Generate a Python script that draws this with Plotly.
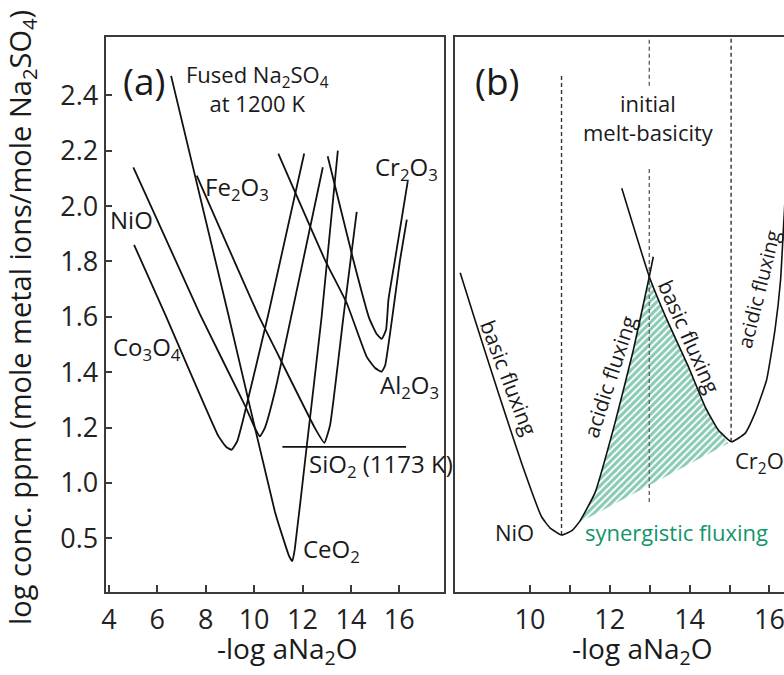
import plotly.graph_objects as go

FONT = "Open Sans"

# ---------------- Panel (a) data (x = -log aNa2O, y = plotted log conc.) -----
nio_x = [5.01, 7.76, 9.62, 10.05, 10.24, 10.45, 10.86, 12.84]
nio_y = [2.14, 1.61, 1.28, 1.195, 1.168, 1.20, 1.33, 2.14]

co3o4_x = [5.04, 6.32, 8.52, 8.85, 9.07, 9.30, 9.55, 10.59, 12.07]
co3o4_y = [1.86, 1.61, 1.17, 1.13, 1.12, 1.15, 1.23, 1.61, 2.19]

ceo2_x = [6.57, 8.93, 10.86, 11.20, 11.45, 11.58, 11.68, 12.17, 12.79, 13.46]
ceo2_y = [2.47, 1.61, 0.896, 0.80, 0.735, 0.718, 0.76, 1.129, 1.60, 2.20]

fe2o3_x = [7.63, 10.17, 10.86, 12.52, 12.90, 13.14, 13.69, 14.24]
fe2o3_y = [2.11, 1.607, 1.486, 1.197, 1.145, 1.209, 1.599, 1.979]

cr2o3_x = [13.04, 14.10, 14.75, 15.05, 15.27, 15.45, 15.55, 15.82, 16.35]
cr2o3_y = [2.18, 1.805, 1.596, 1.54, 1.52, 1.552, 1.661, 1.805, 2.09]

al2o3_x = [11.00, 12.93, 13.83, 14.65, 15.00, 15.27, 15.41, 16.03, 16.31]
al2o3_y = [2.189, 1.805, 1.649, 1.456, 1.415, 1.402, 1.423, 1.805, 1.951]

sio2_x = [11.17, 16.28]
sio2_y = [1.130, 1.130]

a_tick_vals = [0.8, 1.0, 1.2, 1.4, 1.6, 1.8, 2.0, 2.2, 2.4]
a_tick_text = ["0.5", "1.0", "1.2", "1.4", "1.6", "1.8", "2.0", "2.2", "2.4"]
a_xticks = [4, 6, 8, 10, 12, 14, 16]

# ---------------- Panel (b) data -------------------------------------------
b_nio_x = [8.25, 8.62, 9.21, 9.79, 10.29, 10.50, 10.79, 11.05, 11.25, 11.63,
           12.13, 12.59, 12.99, 13.09]
b_nio_y = [1.759, 1.589, 1.324, 1.071, 0.878, 0.838, 0.812, 0.828, 0.862,
           0.965, 1.217, 1.480, 1.745, 1.817]

b_cr_x = [12.30, 12.99, 13.47, 13.97, 14.39, 14.72, 15.05, 15.39, 15.64,
          15.93, 16.14, 16.28, 16.35, 16.42]
b_cr_y = [2.064, 1.745, 1.577, 1.420, 1.275, 1.191, 1.149, 1.179, 1.252,
          1.372, 1.553, 1.733, 1.914, 2.094]

# synergistic region corners (start on NiO branch, end near Cr2O3 minimum)
syn_start = (11.21, 0.855)
syn_end = (14.97, 1.143)

# vertical reference lines in (b): x, y_bottom, y_top
ref_nio = (10.79, 0.812, 2.473)
ref_melt_segments = [(12.99, 2.434, 2.611), (12.99, 0.931, 2.134)]
ref_cr = (15.04, 1.149, 2.611)

b_xticks = [10, 11, 12, 13, 14, 15, 16]
b_xtext = ["10", "", "12", "", "14", "", "16"]

GREEN = "#12956a"
AXC = "#3a3a3a"

fig = go.Figure()

line_a = dict(color="#111111", width=1.8, shape="spline", smoothing=0.4)
for xs, ys in [(nio_x, nio_y), (co3o4_x, co3o4_y), (ceo2_x, ceo2_y),
               (fe2o3_x, fe2o3_y), (cr2o3_x, cr2o3_y), (al2o3_x, al2o3_y)]:
    fig.add_trace(go.Scatter(x=xs, y=ys, mode="lines", line=line_a,
                             xaxis="x", yaxis="y", showlegend=False, hoverinfo="skip"))
fig.add_trace(go.Scatter(x=sio2_x, y=sio2_y, mode="lines",
                         line=dict(color="#111111", width=1.8),
                         xaxis="x", yaxis="y", showlegend=False, hoverinfo="skip"))

# ---- panel (b)
poly_x, poly_y = [syn_start[0]], [syn_start[1]]
for xv, yv in zip(b_nio_x, b_nio_y):
    if syn_start[0] < xv <= 12.99:
        poly_x.append(xv); poly_y.append(yv)
for xv, yv in zip(b_cr_x, b_cr_y):
    if 12.99 < xv < syn_end[0]:
        poly_x.append(xv); poly_y.append(yv)
poly_x.append(syn_end[0]); poly_y.append(syn_end[1])
poly_x.append(syn_start[0]); poly_y.append(syn_start[1])
fig.add_trace(go.Scatter(x=poly_x, y=poly_y, mode="lines", fill="toself",
                         line=dict(width=0, color=GREEN),
                         fillcolor="rgba(0,0,0,0)",
                         fillpattern=dict(shape="/", fgcolor=GREEN, bgcolor="white",
                                          size=5, solidity=0.6),
                         xaxis="x2", yaxis="y2", showlegend=False, hoverinfo="skip"))

dash_style = dict(color="#333333", width=1.4, dash="4px,3px")
for (xv, y0, y1) in [ref_nio, ref_cr]:
    fig.add_trace(go.Scatter(x=[xv, xv], y=[y0, y1], mode="lines", line=dash_style,
                             xaxis="x2", yaxis="y2", showlegend=False, hoverinfo="skip"))
for (xv, y0, y1) in ref_melt_segments:
    fig.add_trace(go.Scatter(x=[xv, xv], y=[y0, y1], mode="lines",
                             line=dict(color="#666666", width=1.4, dash="4px,3px"),
                             xaxis="x2", yaxis="y2", showlegend=False, hoverinfo="skip"))

line_b = dict(color="#111111", width=1.6, shape="spline", smoothing=0.4)
fig.add_trace(go.Scatter(x=b_nio_x, y=b_nio_y, mode="lines", line=line_b,
                         xaxis="x2", yaxis="y2", showlegend=False, hoverinfo="skip"))
fig.add_trace(go.Scatter(x=b_cr_x, y=b_cr_y, mode="lines", line=line_b,
                         xaxis="x2", yaxis="y2", showlegend=False, hoverinfo="skip"))

TICKF = dict(family=FONT, size=27, color="#222222")
common_axis = dict(showgrid=False, zeroline=False, showline=True, linecolor=AXC,
                   linewidth=1.8, ticks="inside", ticklen=7, tickwidth=1.5,
                   tickcolor=AXC, tickfont=TICKF, automargin=False,
                   ticklabeloverflow="allow")

fig.update_layout(
    width=784, height=675,
    margin=dict(l=0, r=0, t=37, b=83),
    paper_bgcolor="white", plot_bgcolor="white",
    font=dict(family=FONT, color="#222222"),
    xaxis=dict(domain=[105.5 / 784, 443.5 / 784], range=[3.86, 17.826],
               tickvals=a_xticks, mirror=True, anchor="y", ticklabelstandoff=3,
               **common_axis),
    yaxis=dict(domain=[0, 1], range=[0.6062, 2.6105], tickvals=a_tick_vals,
               ticktext=a_tick_text, mirror=True, anchor="x", **common_axis),
    xaxis2=dict(domain=[455 / 784, 1.0], range=[8.12, 16.366], tickvals=b_xticks,
                ticktext=b_xtext, mirror=True, anchor="y2", ticklabelstandoff=3,
                **common_axis),
    yaxis2=dict(domain=[0, 1], range=[0.6062, 2.6105], anchor="x2",
                showticklabels=False, showgrid=False, zeroline=False, showline=True,
                linecolor=AXC, linewidth=1.8, ticks="", automargin=False),
)

ann = []
def A(text, x, y, xref, yref, size, **kw):
    d = dict(text=text, x=x, y=y, xref=xref, yref=yref, showarrow=False,
             xanchor="center", yanchor="middle",
             font=dict(family=FONT, size=size, color=kw.pop("color", "#1a1a1a")))
    d.update(kw)
    ann.append(d)

# panel (a) labels
A("(a)", 5.45, 2.452, "x", "y", 37)
A("Fused Na<sub>2</sub>SO<sub>4</sub><br>at 1200 K", 10.12, 2.423, "x", "y", 22)
A("NiO", 4.94, 1.950, "x", "y", 24)
A("Fe<sub>2</sub>O<sub>3</sub>", 9.29, 2.065, "x", "y", 24)
A("Cr<sub>2</sub>O<sub>3</sub>", 16.28, 2.137, "x", "y", 24)
A("Co<sub>3</sub>O<sub>4</sub>", 5.57, 1.487, "x", "y", 24)
A("Al<sub>2</sub>O<sub>3</sub>", 16.44, 1.350, "x", "y", 24)
A("SiO<sub>2</sub> (1173 K)", 15.24, 1.065, "x", "y", 24)
A("CeO<sub>2</sub>", 13.18, 0.758, "x", "y", 24)

# panel (b) labels
A("(b)", 9.17, 2.452, "x2", "y2", 37)
A("initial<br>melt-basicity", 12.98, 2.318, "x2", "y2", 22)
A("basic fluxing", 9.47, 1.379, "x2", "y2", 21, textangle=69)
A("acidic fluxing", 12.0, 1.386, "x2", "y2", 21, textangle=-72)
A("basic fluxing", 13.985, 1.531, "x2", "y2", 21, textangle=66)
A("acidic fluxing", 15.72, 1.70, "x2", "y2", 20, textangle=-76)
A("NiO", 9.62, 0.822, "x2", "y2", 22)
A("synergistic fluxing", 13.66, 0.822, "x2", "y2", 22, color=GREEN)
A("Cr<sub>2</sub>O<sub>3</sub>", 15.09, 1.076, "x2", "y2", 22, xanchor="left")

# axis titles
A("-log aNa<sub>2</sub>O", 287.5 / 784, -58 / 555, "paper", "paper", 28)
A("-log aNa<sub>2</sub>O", 642.5 / 784, -58 / 555, "paper", "paper", 28)
A("log conc. ppm (mole metal ions/mole Na<sub>2</sub>SO<sub>4</sub>)", 22 / 784,
  (592 - 318) / 555, "paper", "paper", 29, textangle=-90)

fig.update_layout(annotations=ann)

fig.write_html("out.html", config={"displayModeBar": False},
               post_script="document.body.style.margin='0px';"
                           "document.body.style.overflow='hidden';")
